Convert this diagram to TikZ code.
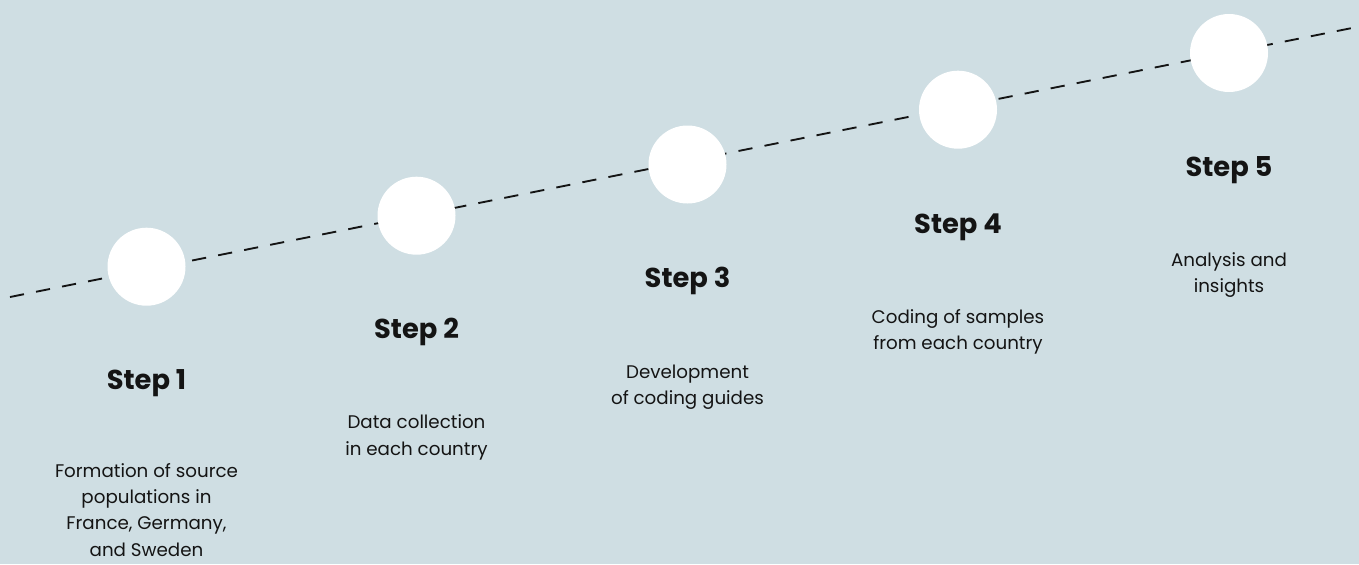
\documentclass[tikz,border=0pt]{standalone}
\usepackage{fontspec}
\setmainfont{Poppins}
\definecolor{bgblue}{HTML}{CFDEE3}
\definecolor{ink}{HTML}{141414}
\begin{document}
\begin{tikzpicture}[x=0.75pt,y=-0.75pt,
  dot/.style={circle,fill=white,draw=none,minimum size=58.5pt,inner sep=0pt},
  timeline/.style={draw=ink,line width=1.4pt,dash pattern=on 10.7pt off 9.2pt},
  steptitle/.style={anchor=base,inner sep=0pt,text=ink,font=\fontsize{20.5pt}{24pt}\selectfont\bfseries},
  stepnote/.style={anchor=base,inner sep=0pt,text=ink,align=center,font=\fontsize{13.7pt}{19.6pt}\selectfont}]
  % canvas
  \fill[bgblue] (0,0) rectangle (1359,564);
  \useasboundingbox (0,0) rectangle (1359,564);
  % dashed timeline
  \coordinate (tstart) at (10,297);
  \coordinate (tend) at (1359,26.6);
  \draw[timeline] (tstart) -- (tend);
  % milestones
  \node[dot] (c1) at (146.5,266.7) {};
  \node[dot] (c2) at (416.5,215.7) {};
  \node[dot] (c3) at (687.5,164.5) {};
  \node[dot] (c4) at (958,109.7) {};
  \node[dot] (c5) at (1229,53) {};
  % titles
  \node[steptitle] (t1) at (146.5,389) {Step 1};
  \node[steptitle] (t2) at (416.5,338.5) {Step 2};
  \node[steptitle] (t3) at (687.5,287.7) {Step 3};
  \node[steptitle] (t4) at (958,233) {Step 4};
  \node[steptitle] (t5) at (1229,176) {Step 5};
  % descriptions (anchored at the baseline of their last line)
  \node[stepnote] (d1) at (146.5,556) {Formation of source\\populations in\\France, Germany,\\and Sweden};
  \node[stepnote] (d2) at (416.5,455) {Data collection\\in each country};
  \node[stepnote] (d3) at (687.5,404.2) {Development\\of coding guides};
  \node[stepnote] (d4) at (958,349.5) {Coding of samples\\from each country};
  \node[stepnote] (d5) at (1229,292.5) {Analysis and\\insights};
\end{tikzpicture}
\end{document}
